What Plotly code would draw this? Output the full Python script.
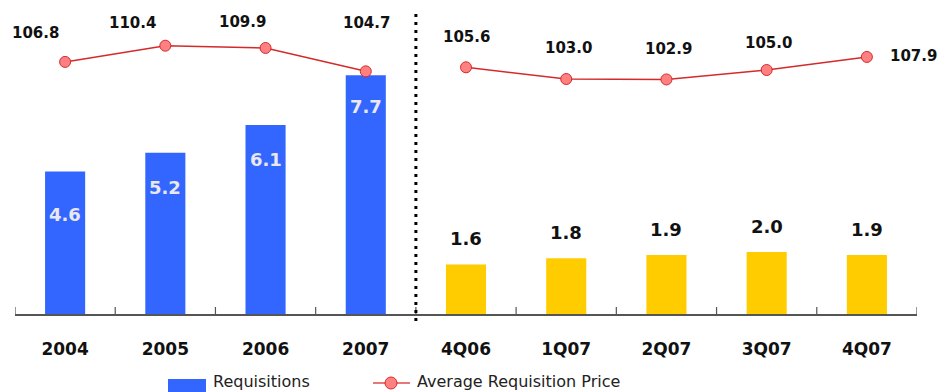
import plotly.graph_objects as go

# ---- data ----
categories = ["2004", "2005", "2006", "2007", "4Q06", "1Q07", "2Q07", "3Q07", "4Q07"]
annual_cats = ["2004", "2005", "2006", "2007"]
quarter_cats = ["4Q06", "1Q07", "2Q07", "3Q07", "4Q07"]
requisitions_annual = [4.6, 5.2, 6.1, 7.7]
requisitions_quarter = [1.6, 1.8, 1.9, 2.0, 1.9]
price_annual = [106.8, 110.4, 109.9, 104.7]
price_quarter = [105.6, 103.0, 102.9, 105.0, 107.9]

# ---- styling ----
BLUE = "#3366FF"
YELLOW = "#FFCC00"
LINE_RED = "#D42A2A"
MARK_FILL = "#FF8080"
FONT = "DejaVu Sans"

W, H = 940, 392
ML, MR, MT, MB = 15, 23, 4, 78
PW = W - ML - MR
PH = H - MT - MB

def px_x(px):
    return (px - ML) / PW

def px_y(py):
    return (H - MB - py) / PH

fig = go.Figure()

fig.add_trace(go.Bar(
    x=annual_cats + quarter_cats,
    y=requisitions_annual + requisitions_quarter,
    marker=dict(color=[BLUE] * len(annual_cats) + [YELLOW] * len(quarter_cats), line=dict(width=0)),
    width=0.4, name="Requisitions", showlegend=False, hoverinfo="skip",
))

for cats, vals in [(annual_cats, price_annual), (quarter_cats, price_quarter)]:
    fig.add_trace(go.Scatter(
        x=cats, y=vals, yaxis="y2", mode="lines+markers",
        line=dict(color=LINE_RED, width=1.5),
        marker=dict(size=11, color=MARK_FILL, line=dict(color=LINE_RED, width=1)),
        name="Average Requisition Price", showlegend=False, hoverinfo="skip",
    ))

def cat_index(c):
    return categories.index(c)

annotations = []
# bar labels inside blue bars
inside_shift = [-43, -35, -35, -31]
for c, v, s in zip(annual_cats, requisitions_annual, inside_shift):
    annotations.append(dict(x=cat_index(c), y=v, xref="x", yref="y", text=f"{v:.1f}", showarrow=False,
                            yshift=s, yanchor="middle",
                            font=dict(family=FONT, size=18, color="#E8E8EE", weight="bold")))
# yellow bar labels above
for c, v in zip(quarter_cats, requisitions_quarter):
    annotations.append(dict(x=cat_index(c), y=v, xref="x", yref="y", text=f"{v:.1f}", showarrow=False,
                            yshift=26, yanchor="middle",
                            font=dict(family=FONT, size=18, color="#111111", weight="bold")))
# price labels
price_shift = [(-30, 29), (-33, 23), (-23, 26), (1, 48), (0, 30), (2, 31), (2, 30), (2, 27), (47, 1)]
for c, v, (dx, dy) in zip(annual_cats + quarter_cats, price_annual + price_quarter, price_shift):
    annotations.append(dict(x=cat_index(c), y=v, xref="x", yref="y2", text=f"{v:.1f}", showarrow=False,
                            xshift=dx, yshift=dy, yanchor="middle",
                            font=dict(family=FONT, size=15, color="#111111", weight="bold")))

# legend text
annotations.append(dict(x=px_x(211), y=px_y(381), xref="paper", yref="paper", text="Requisitions",
                        showarrow=False, xanchor="left", yanchor="middle",
                        font=dict(family=FONT, size=16, color="#222222")))
annotations.append(dict(x=px_x(415), y=px_y(381), xref="paper", yref="paper", text="Average Requisition Price",
                        showarrow=False, xanchor="left", yanchor="middle",
                        font=dict(family=FONT, size=16, color="#222222")))

shapes = []
# tick marks crossing the axis at category boundaries
for k in range(len(categories) + 1):
    shapes.append(dict(type="line", xref="x", yref="y", x0=k - 0.5, x1=k - 0.5,
                       ysizemode="pixel", yanchor=0, y0=-6, y1=7,
                       line=dict(color="#555555", width=1.2)))
# dotted separator
shapes.append(dict(type="line", xref="x", yref="paper", x0=3.5, x1=3.5,
                   y0=px_y(321), y1=px_y(12),
                   line=dict(color="#000000", width=3, dash="3px,5px")))
# legend icons
shapes.append(dict(type="rect", xref="paper", yref="paper",
                   x0=px_x(168), x1=px_x(206), y0=px_y(392), y1=px_y(379),
                   fillcolor=BLUE, line=dict(width=0)))
shapes.append(dict(type="line", xref="paper", yref="paper",
                   x0=px_x(373), x1=px_x(410), y0=px_y(383), y1=px_y(383),
                   line=dict(color="#E87878", width=2)))
shapes.append(dict(type="circle", xref="paper", yref="paper",
                   xsizemode="pixel", ysizemode="pixel",
                   xanchor=px_x(391), yanchor=px_y(383),
                   x0=-6, x1=6, y0=-6, y1=6,
                   fillcolor=MARK_FILL, line=dict(color=LINE_RED, width=1)))

fig.update_layout(
    width=W, height=H,
    margin=dict(l=ML, r=MR, t=MT, b=MB, pad=0),
    paper_bgcolor="white", plot_bgcolor="white",
    showlegend=False,
    bargap=0.6,
    xaxis=dict(type="category", categoryorder="array", categoryarray=categories,
               range=[-0.5, len(categories) - 0.5],
               showline=True, linecolor="#555555", linewidth=1.5,
               showgrid=False, zeroline=False, ticks="",
               tickfont=dict(family=FONT, size=17, color="#111111", weight="bold"),
               ticklabelstandoff=19),
    yaxis=dict(range=[0, PH / 31.0], visible=False, showgrid=False, zeroline=False),
    yaxis2=dict(range=[110.4 - (PH + MT - 45.7) / 4.5, 110.4 + (45.7 - MT) / 4.5],
                overlaying="y", side="right", visible=False, showgrid=False, zeroline=False),
    annotations=annotations,
    shapes=shapes,
)

fig.write_html("out.html")
